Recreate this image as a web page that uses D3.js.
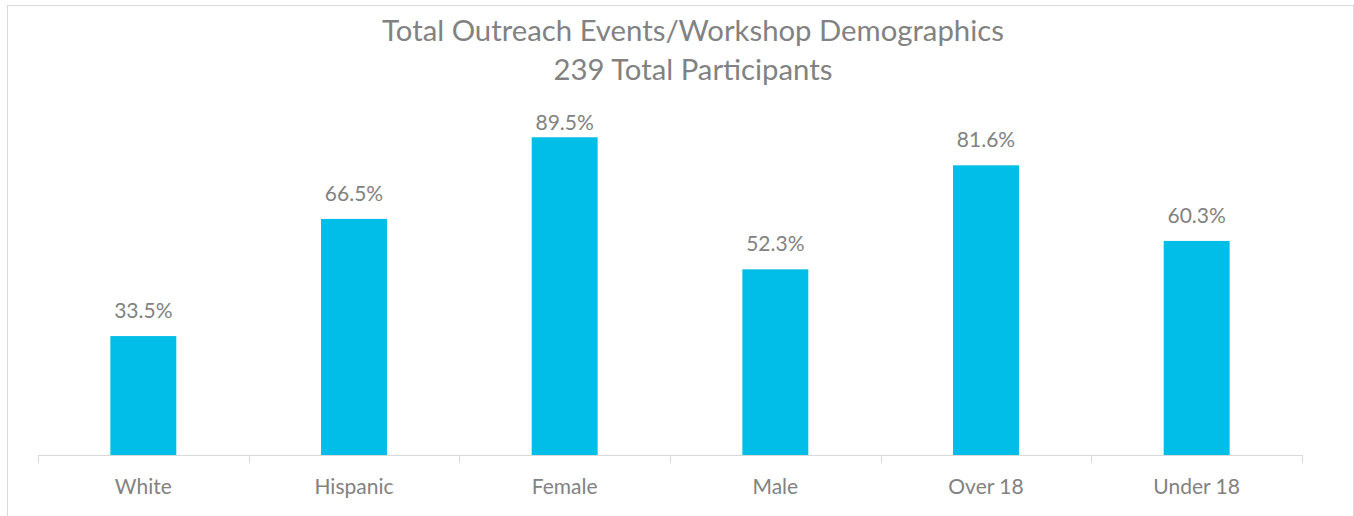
<!DOCTYPE html>
<html>
<head>
<meta charset="utf-8">
<script src="https://cdn.jsdelivr.net/npm/d3@7"></script>
<style>
  html, body { margin: 0; padding: 0; background: #fff; }
  svg { display: block; font-family: Lato, "Open Sans", sans-serif; }
</style>
</head>
<body>
<svg id="chart" width="1354" height="516"></svg>
<script>
/* chart data */
var categories = ["White", "Hispanic", "Female", "Male", "Over 18", "Under 18"];
var shares = [0.335, 0.665, 0.895, 0.523, 0.816, 0.603];
var titleLines = ["Total Outreach Events/Workshop Demographics", "239 Total Participants"];

var width = 1354, height = 516;
var svg = d3.select("#chart");
var textColor = "#828282";

/* outer frame */
svg.append("rect")
  .attr("x", 7.5).attr("y", 5.5)
  .attr("width", width - 8).attr("height", height)
  .attr("fill", "none")
  .attr("stroke", "#d9d9d9");

/* scales: plot runs from 38 to 1302, baseline at 455 */
var x = d3.scaleBand()
  .domain(categories)
  .range([38, 1302])
  .paddingInner(0.687)
  .paddingOuter(0.3435);

var y = d3.scaleLinear()
  .domain([0, 1])
  .range([455, 100]);

/* title */
svg.append("g").selectAll("text")
  .data(titleLines)
  .enter().append("text")
  .attr("x", 693)
  .attr("y", function(d, i) { return i === 0 ? 41 : 80; })
  .attr("text-anchor", "middle")
  .attr("fill", textColor)
  .style("font-size", "29.3px")
  .text(function(d) { return d; });

/* bars */
var rows = categories.map(function(c, i) { return {cat: c, v: shares[i]}; });

svg.append("g").selectAll("rect")
  .data(rows)
  .enter().append("rect")
  .attr("x", function(d) { return x(d.cat); })
  .attr("y", function(d) { return y(d.v); })
  .attr("width", x.bandwidth())
  .attr("height", function(d) { return y(0) - y(d.v); })
  .attr("fill", "#00bee8");

/* value labels, pushed down when they'd leave the plot area */
svg.append("g").selectAll("text")
  .data(rows)
  .enter().append("text")
  .attr("x", function(d) { return x(d.cat) + x.bandwidth() / 2; })
  .attr("y", function(d) { return Math.max(y(d.v) - 18, 130); })
  .attr("text-anchor", "middle")
  .attr("fill", textColor)
  .style("font-size", "21px")
  .text(function(d) { return d3.format(".1%")(d.v); });

/* category axis with ticks between the bands */
var edges = d3.range(categories.length + 1).map(function(i) { return 38 + i * (1264 / categories.length); });

var axis = svg.append("g");
axis.append("line")
  .attr("x1", 38).attr("x2", 1302)
  .attr("y1", y(0) + 0.5).attr("y2", y(0) + 0.5)
  .attr("stroke", "#d9d9d9");

axis.selectAll("line.tick")
  .data(edges)
  .enter().append("line")
  .attr("class", "tick")
  .attr("x1", function(d) { return Math.round(d) + 0.5; })
  .attr("x2", function(d) { return Math.round(d) + 0.5; })
  .attr("y1", y(0)).attr("y2", y(0) + 8)
  .attr("stroke", "#d9d9d9");

axis.selectAll("text")
  .data(categories)
  .enter().append("text")
  .attr("x", function(d) { return x(d) + x.bandwidth() / 2; })
  .attr("y", 494)
  .attr("text-anchor", "middle")
  .attr("fill", textColor)
  .style("font-size", "21px")
  .text(function(d) { return d; });
</script>
</body>
</html>
